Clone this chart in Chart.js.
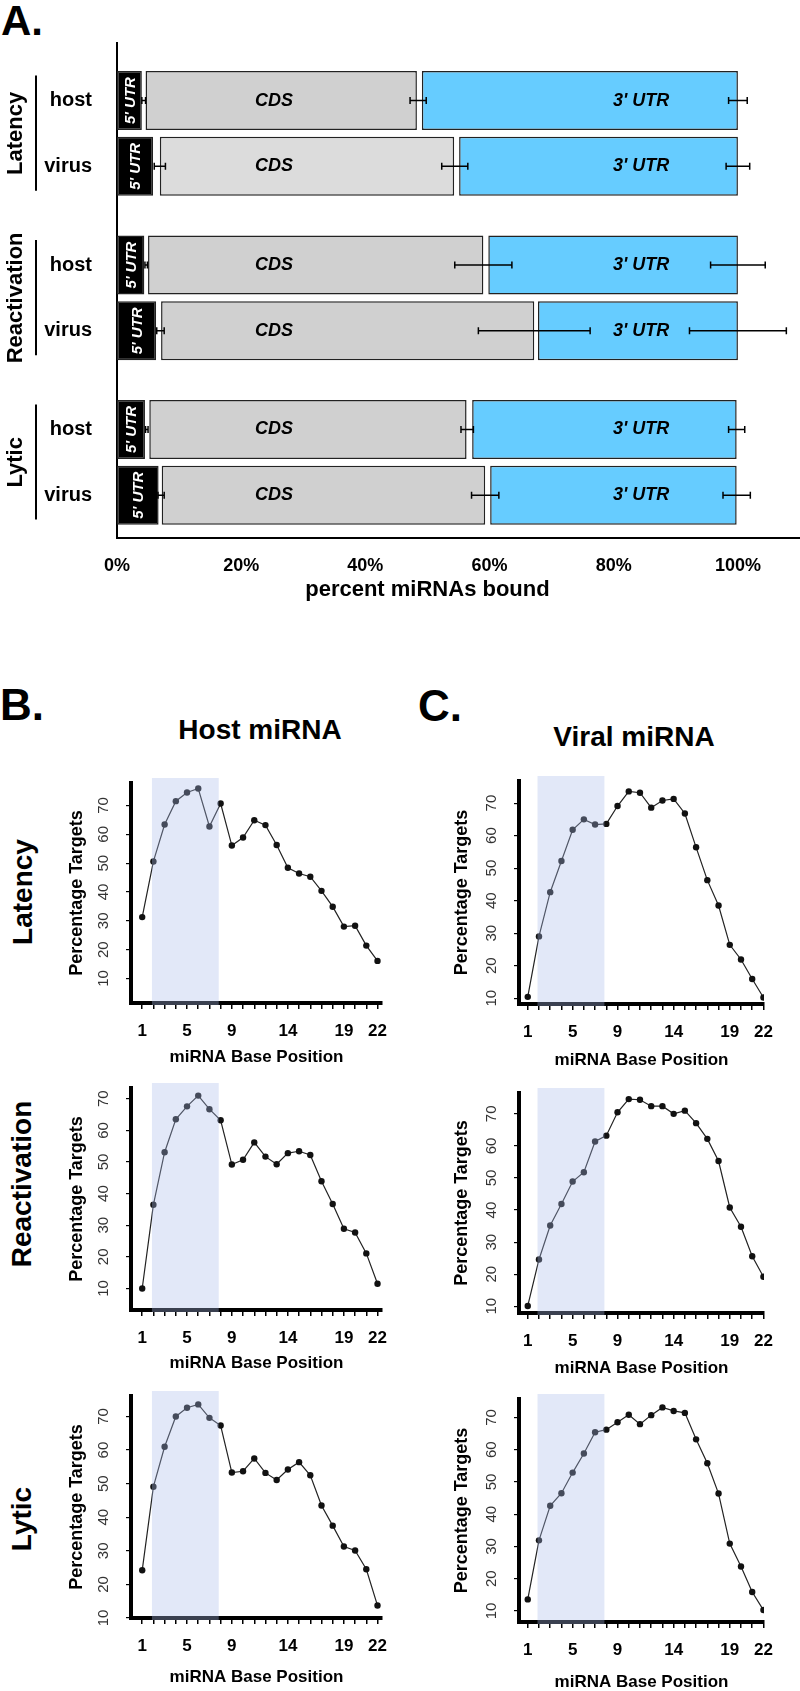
<!DOCTYPE html>
<html>
<head>
<meta charset="utf-8">
<title>miRNA binding regions and seed position profiles</title>
<script src="https://cdn.jsdelivr.net/npm/chart.js@4.4.1/dist/chart.umd.min.js"></script>
<style>
    html, body { margin: 0; padding: 0; background: #fff; }
    body { position: relative; width: 800px; height: 1691px; overflow: hidden; font-family: 'Liberation Sans', Arial, sans-serif; color: #000; }
    canvas { position: absolute; }
    .lbl { position: absolute; font-weight: bold; white-space: nowrap; transform: translate(-50%, -50%); }
    .rot { transform: translate(-50%, -50%) rotate(-90deg); }
</style>
</head>
<body>
<div class="lbl" style="left:22px; top:21px; font-size:42px">A.</div>
<div class="lbl" style="left:22px; top:705px; font-size:44px">B.</div>
<div class="lbl" style="left:440px; top:706px; font-size:44px">C.</div>
<div class="lbl" style="left:260px; top:730px; font-size:28px">Host miRNA</div>
<div class="lbl" style="left:634px; top:737px; font-size:28px">Viral miRNA</div>
<div class="lbl rot" style="left:23px; top:892px; font-size:28px">Latency</div>
<div class="lbl rot" style="left:22px; top:1184px; font-size:28px">Reactivation</div>
<div class="lbl rot" style="left:22px; top:1519px; font-size:28px">Lytic</div>

<script>
// ---- panel A: where the miRNAs bind (percent of bound miRNAs) ----
const groupLabels = ['Latency', 'Reactivation', 'Lytic']
const rowLabels = ['host', 'virus', 'host', 'virus', 'host', 'virus']
const rowPos = [0, 1, 2.5, 3.5, 5, 6]
const percentTicks = [0, 20, 40, 60, 80, 100]

// [start, end] of each segment along the bar
const utr5 = [[0, 4.0], [0, 5.8], [0, 4.4], [0, 6.3], [0, 4.5], [0, 6.7]]
const cds = [[4.6, 48.3], [6.9, 54.3], [5.0, 59.0], [7.1, 67.2], [5.2, 56.3], [7.2, 59.3]]
const utr3 = [[49.1, 100], [55.1, 100], [59.8, 100], [67.8, 100], [57.2, 99.8], [60.1, 99.8]]

// error bars: [centre, half width]
const err5 = [[4.3, 0.3], [6.9, 0.9], [4.7, 0.2], [7.0, 0.6], [4.8, 0.2], [7.1, 0.5]]
const errCds = [[48.5, 1.3], [54.4, 2.1], [59.0, 4.6], [67.2, 9.0], [56.4, 1.0], [59.3, 2.2]]
const err3 = [[100, 1.5], [100, 1.9], [100, 4.4], [100, 7.8], [99.8, 1.3], [99.8, 2.2]]

// ---- panels B and C: percentage of targets by miRNA base position ----
const basePositions = [1, 2, 3, 4, 5, 6, 7, 8, 9, 10, 11, 12, 13, 14, 15, 16, 17, 18, 19, 20, 21, 22]
const baseTickLabels = [1, 5, 9, 14, 19, 22]
const targetTicks = [10, 20, 30, 40, 50, 60, 70]
const seedRegion = [1.87, 7.83]

const hostLatency = [31.3, 50.6, 63.4, 71.5, 74.5, 75.9, 62.7, 70.7, 56.1, 58.9, 64.9, 63.2, 56.3, 48.4, 46.4, 45.3, 40.4, 34.9, 28.0, 28.3, 21.4, 16.1]
const hostReactivation = [10.0, 36.5, 53.1, 63.5, 67.6, 71.0, 66.7, 63.2, 49.2, 50.7, 56.2, 51.7, 49.3, 52.8, 53.4, 52.2, 43.9, 36.7, 28.9, 27.7, 21.1, 11.5]
const hostLytic = [24.2, 49.1, 61.0, 70.0, 72.6, 73.6, 69.6, 67.3, 53.3, 53.7, 57.5, 53.2, 51.1, 54.2, 56.4, 52.5, 43.5, 37.5, 31.3, 30.1, 24.5, 13.7]
const viralLatency = [10.4, 29.0, 42.6, 52.2, 61.8, 65.0, 63.4, 63.6, 69.1, 73.6, 73.2, 68.6, 70.8, 71.3, 66.8, 56.4, 46.3, 38.5, 26.4, 21.9, 15.9, 10.2]
const viralReactivation = [10.1, 24.6, 35.2, 41.9, 48.9, 51.8, 61.4, 63.2, 70.5, 74.6, 74.4, 72.4, 72.4, 70.0, 71.0, 67.1, 62.2, 55.3, 40.8, 34.8, 25.6, 19.2]
const viralLytic = [13.6, 31.9, 42.6, 46.5, 52.9, 58.8, 65.4, 66.2, 68.5, 70.8, 67.9, 70.7, 73.1, 72.0, 71.4, 63.2, 55.8, 46.4, 30.9, 23.8, 15.9, 10.3]

const FONT = "'Liberation Sans', Arial, sans-serif"
Chart.defaults.font.family = FONT
Chart.defaults.color = '#000'

const cdsFill = ['#d0d0d0', '#dcdcdc', '#d0d0d0', '#d0d0d0', '#d0d0d0', '#d0d0d0']

function addCanvas(left, top, width, height) {
    const canvas = document.createElement('canvas')
    canvas.width = width
    canvas.height = height
    canvas.style.left = left + 'px'
    canvas.style.top = top + 'px'
    document.body.appendChild(canvas)
    return canvas
}

function rotatedText(ctx, text, x, y) {
    ctx.save()
    ctx.translate(x, y)
    ctx.rotate(-Math.PI / 2)
    ctx.fillText(text, 0, 0)
    ctx.restore()
}

// labels, error bars and group brackets for panel A
const regionDecor = {
    id: 'regionDecor',
    afterDraw(chart) {
        const { ctx, scales: { x, y } } = chart
        ctx.save()
        ctx.textAlign = 'center'
        ctx.textBaseline = 'middle'

        rowPos.forEach((p, i) => {
            const py = y.getPixelForValue(p)
            ctx.fillStyle = '#fff'
            ctx.font = `italic bold 15px ${FONT}`
            rotatedText(ctx, "5' UTR", x.getPixelForValue((utr5[i][0] + utr5[i][1]) / 2) + 1, py)
            ctx.fillStyle = '#000'
            ctx.font = `italic bold 18px ${FONT}`
            ctx.fillText('CDS', x.getPixelForValue(25.3), py)
            ctx.fillText("3' UTR", x.getPixelForValue(84.4), py)
        })

        ctx.strokeStyle = '#000'
        ctx.lineWidth = 1.5
        ;[err5, errCds, err3].forEach(set => set.forEach(([c, h], i) => {
            const py = y.getPixelForValue(rowPos[i])
            const xa = x.getPixelForValue(c - h)
            const xb = x.getPixelForValue(c + h)
            ctx.beginPath()
            ctx.moveTo(xa, py)
            ctx.lineTo(xb, py)
            ctx.moveTo(xa, py - 3.5)
            ctx.lineTo(xa, py + 3.5)
            ctx.moveTo(xb, py - 3.5)
            ctx.lineTo(xb, py + 3.5)
            ctx.stroke()
        }))

        ctx.lineWidth = 2
        ctx.font = `bold 22px ${FONT}`
        groupLabels.forEach((g, gi) => {
            const p0 = rowPos[gi * 2]
            const ya = y.getPixelForValue(p0 - 0.38)
            const yb = y.getPixelForValue(p0 + 1.37)
            ctx.beginPath()
            ctx.moveTo(36, ya)
            ctx.lineTo(36, yb)
            ctx.stroke()
            rotatedText(ctx, g, 16, y.getPixelForValue(p0 + 0.5))
        })

        ctx.font = `bold 22px ${FONT}`
        ctx.fillText('percent miRNAs bound', x.getPixelForValue(50), x.bottom - 25)
        ctx.restore()
    }
}

const spanData = spans => spans.map((s, i) => ({ x: s, y: rowPos[i] }))

new Chart(addCanvas(0, 0, 800, 615), {
    type: 'bar',
    data: {
        datasets: [
            { label: "5' UTR", data: spanData(utr5), backgroundColor: '#000' },
            { label: 'CDS', data: spanData(cds), backgroundColor: cdsFill },
            { label: "3' UTR", data: spanData(utr3), backgroundColor: '#66ccff' }
        ]
    },
    options: {
        indexAxis: 'y',
        responsive: false,
        animation: false,
        devicePixelRatio: 1,
        datasets: {
            bar: { grouped: false, barPercentage: 0.897, categoryPercentage: 1, borderColor: '#222', borderWidth: 1.5, borderSkipped: false }
        },
        layout: { padding: { top: 43, right: 0, bottom: 0, left: 0 } },
        plugins: { legend: { display: false }, tooltip: { enabled: false } },
        scales: {
            x: {
                type: 'linear', min: 0, max: 110,
                afterBuildTicks: s => { s.ticks = percentTicks.map(v => ({ value: v })) },
                afterFit: s => { s.height = 77 },
                grid: { display: false },
                border: { display: true, color: '#000', width: 2 },
                ticks: { padding: 9, font: { size: 18, weight: 'bold' }, color: '#000', callback: v => v + '%' }
            },
            y: {
                type: 'linear', reverse: true, min: -0.875, max: 6.65,
                offset: false,
                afterBuildTicks: s => { s.ticks = rowPos.map(v => ({ value: v })) },
                afterFit: s => { s.width = 117 },
                grid: { display: false, offset: false },
                border: { display: true, color: '#000', width: 2 },
                ticks: { padding: 17, font: { size: 20, weight: 'bold' }, color: '#000', callback: (v, i) => rowLabels[i] }
            }
        }
    },
    plugins: [regionDecor]
})

// translucent seed-region band drawn over the profile
const seedShade = {
    id: 'seedShade',
    afterDatasetsDraw(chart) {
        const { ctx, chartArea, scales: { x } } = chart
        const x0 = x.getPixelForValue(seedRegion[0])
        const x1 = x.getPixelForValue(seedRegion[1])
        ctx.save()
        ctx.fillStyle = 'rgba(170, 188, 235, 0.34)'
        ctx.fillRect(x0, chartArea.top - 5, x1 - x0, chartArea.bottom - chartArea.top + 7)
        ctx.restore()
    }
}

const hostCol = { left: 0, areaLeft: 131, areaRight: 382, xMin: 0, xMax: 22.4, yTitleX: 77 }
const viralCol = { left: 400, areaLeft: 519, areaRight: 764, xMin: 0.22, xMax: 22.05, yTitleX: 462 }

const panels = [
    { col: hostCol, values: hostLatency, top: 772, bottom: 1003, yMin: 1.5, yMax: 77.8, titleY: 1057 },
    { col: hostCol, values: hostReactivation, top: 1077, bottom: 1310, yMin: 3.2, yMax: 73.4, titleY: 1363 },
    { col: hostCol, values: hostLytic, top: 1385, bottom: 1618, yMin: 10, yMax: 76.1, titleY: 1677 },
    { col: viralCol, values: viralLatency, top: 770, bottom: 1004, yMin: 8.2, yMax: 76.8, titleY: 1060 },
    { col: viralCol, values: viralReactivation, top: 1082, bottom: 1313, yMin: 7.9, yMax: 76.5, titleY: 1368 },
    { col: viralCol, values: viralLytic, top: 1388, bottom: 1622, yMin: 6.6, yMax: 75.7, titleY: 1682 }
]

function drawProfile(p) {
    const c = p.col
    const axisBand = 75
    const top = p.top - 12
    const canvas = addCanvas(c.left, top, 400, p.bottom + axisBand - top)

    new Chart(canvas, {
        type: 'line',
        data: {
            datasets: [{
                data: basePositions.map((b, i) => ({ x: b, y: p.values[i] })),
                borderColor: '#222',
                borderWidth: 1.2,
                pointRadius: 3.2,
                pointBackgroundColor: '#111',
                pointBorderWidth: 0,
                tension: 0
            }]
        },
        options: {
            responsive: false,
            animation: false,
            devicePixelRatio: 1,
            layout: { padding: { top: 12, right: c.left + 400 - c.areaRight, bottom: 0, left: 0 } },
            plugins: { legend: { display: false }, tooltip: { enabled: false } },
            scales: {
                x: {
                    type: 'linear', min: c.xMin, max: c.xMax,
                    afterBuildTicks: s => { s.ticks = basePositions.map(v => ({ value: v })) },
                    afterFit: s => { s.height = axisBand },
                    grid: { drawOnChartArea: false, drawTicks: true, tickLength: 6, color: '#000', lineWidth: 1.5 },
                    border: { display: true, color: '#000', width: 4 },
                    ticks: {
                        autoSkip: false, maxRotation: 0, padding: 12,
                        font: { size: 17, weight: 'bold' }, color: '#000',
                        callback: v => baseTickLabels.includes(v) ? String(v) : ''
                    },
                    title: {
                        display: true, text: 'miRNA Base Position',
                        font: { size: 17, weight: 'bold' }, color: '#000',
                        padding: { top: 0, bottom: p.bottom + axisBand - p.titleY - 10.2 }
                    }
                },
                y: {
                    min: p.yMin, max: p.yMax,
                    afterBuildTicks: s => { s.ticks = targetTicks.map(v => ({ value: v })) },
                    afterFit: s => { s.width = c.areaLeft - c.left },
                    grid: { drawOnChartArea: false, drawTicks: true, tickLength: 5, color: '#000', lineWidth: 1.2 },
                    border: { display: true, color: '#000', width: 4 },
                    ticks: { minRotation: 90, maxRotation: 90, crossAlign: 'center', padding: 14, font: { size: 15 }, color: '#333' },
                    title: {
                        display: true, text: 'Percentage Targets',
                        font: { size: 18, weight: 'bold' }, color: '#000',
                        padding: { top: c.yTitleX - c.left - 10.8, bottom: 0 }
                    }
                }
            }
        },
        plugins: [seedShade]
    })
}

panels.forEach(drawProfile)
</script>
</body>
</html>
